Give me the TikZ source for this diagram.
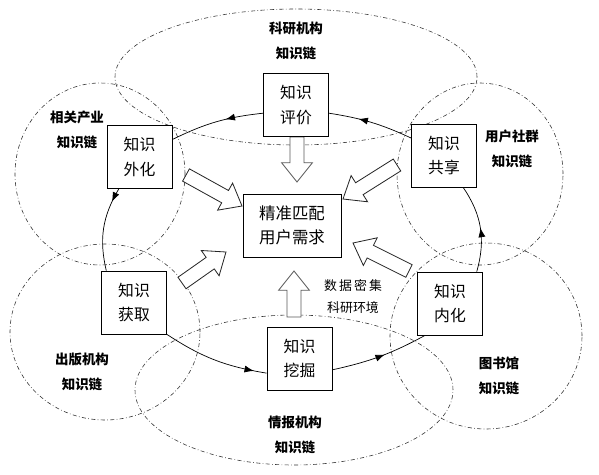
\documentclass[tikz,border=0pt]{standalone}
\usepackage{fontspec}
\newfontfamily\cjk{Noto Sans CJK SC}
\usetikzlibrary{calc, arrows.meta, decorations.markings}

\tikzset{
  box/.style={draw, fill=white, line width=0.6pt, minimum width=1.95cm, minimum height=1.89cm,
    inner sep=0pt, align=center, font=\cjk\fontsize{13.5}{20.7}\selectfont},
  chain/.style={line width=0.5pt, black!80, dash pattern=on 3.5pt off 2pt on 0.6pt off 2pt},
  chainlabel/.style={align=center, font=\cjk\bfseries\fontsize{11.5}{21.3}\selectfont},
  cyc/.style={line width=0.6pt, postaction={decorate},
    decoration={markings, mark=at position #1 with {\arrow{Latex[length=8pt,width=6pt]}}}},
}

% freccia grossa vuota: #2 coda, #3 punta
\newcommand{\fatarrow}[3][black!85]{%
  \coordinate (fab) at ($(#3)!16.5pt!(#2)$);
  \draw[#1, fill=white, line width=0.7pt, line join=miter]
    ($(#2)!6pt!90:(#3)$) -- ($(fab)!6pt!90:(#3)$) -- ($(fab)!13.2pt!90:(#3)$) -- (#3)
    -- ($(fab)!13.2pt!-90:(#3)$) -- ($(fab)!6pt!-90:(#3)$) -- ($(#2)!6pt!-90:(#3)$) -- cycle;
}

\begin{document}
\begin{tikzpicture}[x=0.03cm, y=0.03cm]
        \useasboundingbox (0,0) rectangle (599,-474);

        %ellissi delle catene
        \draw[chain] (296,-77) ellipse [x radius=5.43cm, y radius=2.04cm];
        \draw[chain] (100,-174) ellipse [x radius=2.55cm, y radius=2.73cm];
        \draw[chain] (480,-174) ellipse [x radius=2.49cm, y radius=2.73cm];
        \draw[chain] (105,-332) ellipse [x radius=2.85cm, y radius=2.64cm];
        \draw[chain] (294,-390) ellipse [x radius=4.77cm, y radius=2.25cm];
        \draw[chain] (486,-336) ellipse [x radius=2.88cm, y radius=2.79cm];

        %etichette delle catene
        \node[chainlabel] (lsci) at (296,-41) {科研机构\\知识链};
        \node[chainlabel] (lind) at (77,-129.5) {相关产业\\知识链};
        \node[chainlabel] (lusr) at (512,-148.5) {用户社群\\知识链};
        \node[chainlabel] (lpub) at (82,-372) {出版机构\\知识链};
        \node[chainlabel] (linf) at (295,-434.5) {情报机构\\知识链};
        \node[chainlabel] (llib) at (499,-375.5) {图书馆\\知识链};
        \node[align=center, font=\cjk\fontsize{11}{19.5}\selectfont] (env) at (353,-296.5)
            {数\,据\,密\,集\\科研环境};

        %frecce grosse verso il centro
        \coordinate (t1) at (297,-137);   \coordinate (p1) at (297,-182);
        \coordinate (t2) at (186,-175);   \coordinate (p2) at (242,-206);
        \coordinate (t3) at (397,-165);   \coordinate (p3) at (343,-199);
        \coordinate (t4) at (182,-283);   \coordinate (p4) at (226,-252);
        \coordinate (t5) at (409,-271);   \coordinate (p5) at (353,-243);
        \coordinate (t6) at (294,-317);   \coordinate (p6) at (294,-271);
        \fatarrow[black!65]{t1}{p1}
        \fatarrow{t2}{p2}
        \fatarrow{t3}{p3}
        \fatarrow{t4}{p4}
        \fatarrow{t5}{p5}
        \fatarrow[black!65]{t6}{p6}

        %riquadri
        \node[box] (eval) at (296,-105) {知识\\评价};
        \node[box] (ext) at (139.5,-157) {知识\\外化};
        \node[box] (sha) at (444,-155.5) {知识\\共享};
        \node[box, minimum width=2.94cm, font=\cjk\fontsize{14}{20.5}\selectfont] (match) at (292,-225.5)
            {精准匹配\\用户需求};
        \node[box] (acq) at (134,-302.5) {知识\\获取};
        \node[box] (min) at (299.5,-358.5) {知识\\挖掘};
        \node[box] (int) at (450,-303.5) {知识\\内化};

        %ciclo
        \draw[cyc=0.4] (eval.194) to[bend right=10] (ext.28);
        \draw[cyc=0.17] (ext.237) to[bend right=22] (acq.131);
        \draw[cyc=0.88] (acq.south east) to[bend right=12] (min.204);
        \draw[cyc=0.55] (min.-19) to[bend right=8] (int.232);
        \draw[cyc=0.5] (int.50) to[bend right=25] (sha.-59);
        \draw[cyc=0.65] (sha.152) to[bend right=8] (eval.-14);
\end{tikzpicture}
\end{document}
